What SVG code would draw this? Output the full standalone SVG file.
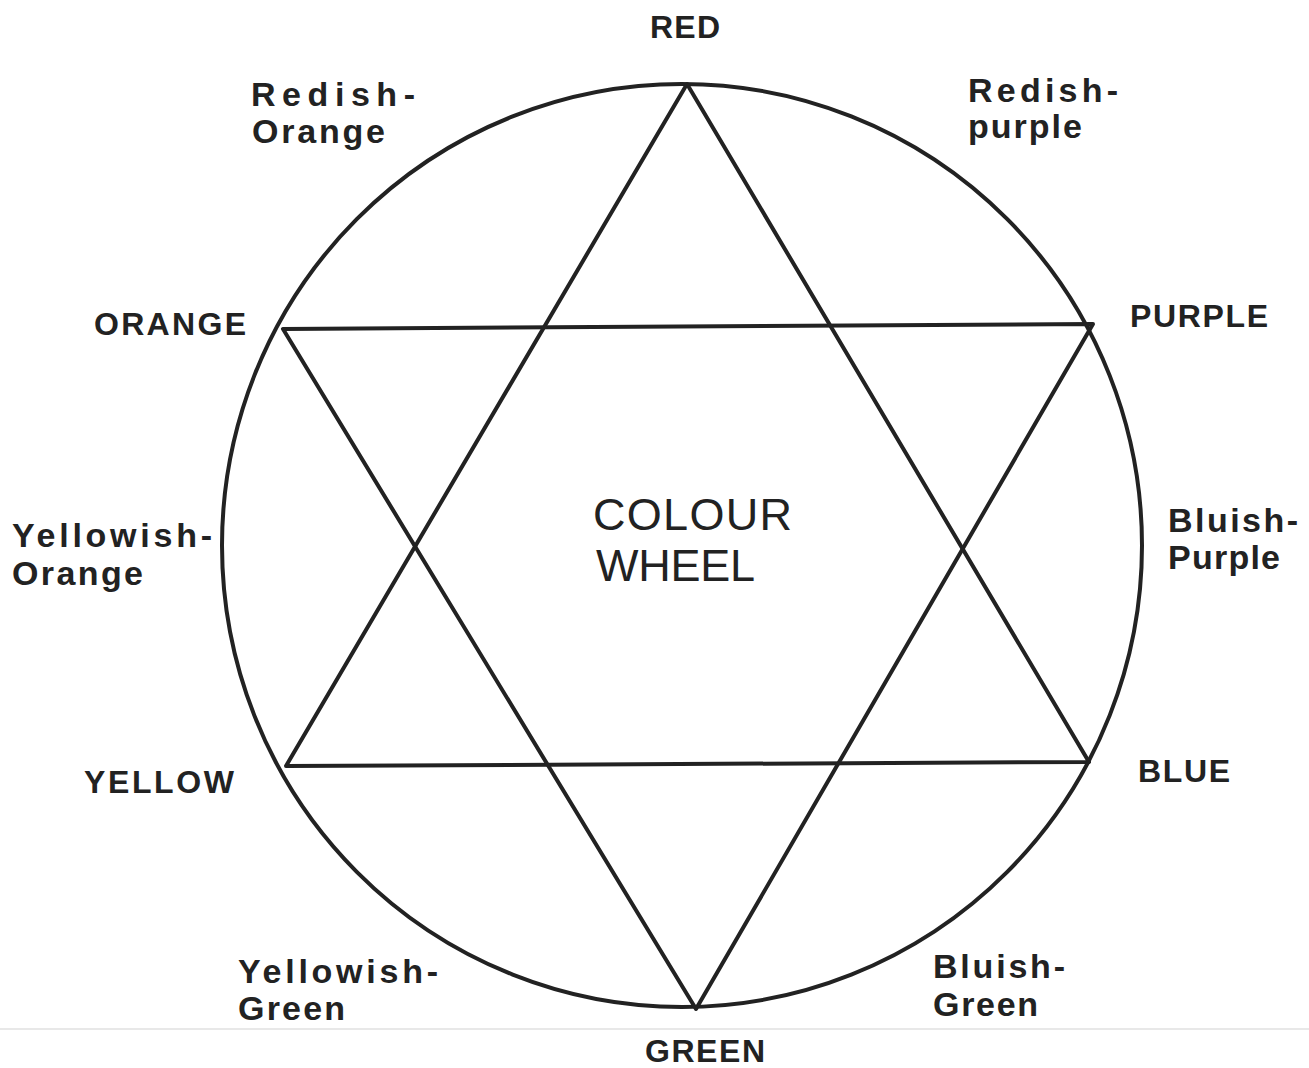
<svg xmlns="http://www.w3.org/2000/svg" width="1309" height="1068" viewBox="0 0 1309 1068">
<style>
.lbl{font-family:"Liberation Sans",Arial,sans-serif;font-weight:bold;font-size:32px;fill:#222}
.mix{font-size:34px}
.title{font-family:"Liberation Sans",Arial,sans-serif;font-size:45px;fill:#222}
.ln{fill:none;stroke:#222;stroke-width:4;stroke-linejoin:round;stroke-linecap:round}
</style>
<rect width="1309" height="1068" fill="#fff"/>
<line x1="0" y1="1029" x2="1309" y2="1029" stroke="#e8e8e8" stroke-width="2"/>
<g id="wheel">
<ellipse class="ln" cx="682" cy="545.5" rx="460" ry="461.5"/>
</g>
<g id="connectors">
<polygon class="ln" points="687,84 1089,762 286,766"/>
<polygon class="ln" points="283,329 1093,324 696,1009"/>
</g>
<g id="title"><text class="title" x="593" y="530" textLength="199" lengthAdjust="spacing">COLOUR</text><text class="title" x="596" y="581" textLength="159" lengthAdjust="spacing">WHEEL</text></g>
<g id="red"><text class="lbl" x="650" y="38" textLength="70" lengthAdjust="spacing">RED</text></g>
<g id="redish-orange"><text class="lbl mix" x="251" y="106" textLength="164" lengthAdjust="spacing">Redish-</text><text class="lbl mix" x="252" y="143" textLength="133" lengthAdjust="spacing">Orange</text></g>
<g id="redish-purple"><text class="lbl mix" x="968" y="102" textLength="150" lengthAdjust="spacing">Redish-</text><text class="lbl mix" x="968" y="138" textLength="114" lengthAdjust="spacing">purple</text></g>
<g id="orange"><text class="lbl" x="94" y="335" textLength="152" lengthAdjust="spacing">ORANGE</text></g>
<g id="purple"><text class="lbl" x="1130" y="327" textLength="138" lengthAdjust="spacing">PURPLE</text></g>
<g id="yellowish-orange"><text class="lbl mix" x="12" y="547" textLength="200" lengthAdjust="spacing">Yellowish-</text><text class="lbl mix" x="12" y="585" textLength="131" lengthAdjust="spacing">Orange</text></g>
<g id="bluish-purple"><text class="lbl mix" x="1168" y="532" textLength="130" lengthAdjust="spacing">Bluish-</text><text class="lbl mix" x="1168" y="569" textLength="112" lengthAdjust="spacing">Purple</text></g>
<g id="yellow"><text class="lbl" x="84" y="793" textLength="150" lengthAdjust="spacing">YELLOW</text></g>
<g id="blue"><text class="lbl" x="1138" y="782" textLength="92" lengthAdjust="spacing">BLUE</text></g>
<g id="yellowish-green"><text class="lbl mix" x="238" y="983" textLength="200" lengthAdjust="spacing">Yellowish-</text><text class="lbl mix" x="238" y="1020" textLength="107" lengthAdjust="spacing">Green</text></g>
<g id="bluish-green"><text class="lbl mix" x="933" y="978" textLength="132" lengthAdjust="spacing">Bluish-</text><text class="lbl mix" x="933" y="1016" textLength="105" lengthAdjust="spacing">Green</text></g>
<g id="green"><text class="lbl" x="645" y="1062" textLength="120" lengthAdjust="spacing">GREEN</text></g>
</svg>
